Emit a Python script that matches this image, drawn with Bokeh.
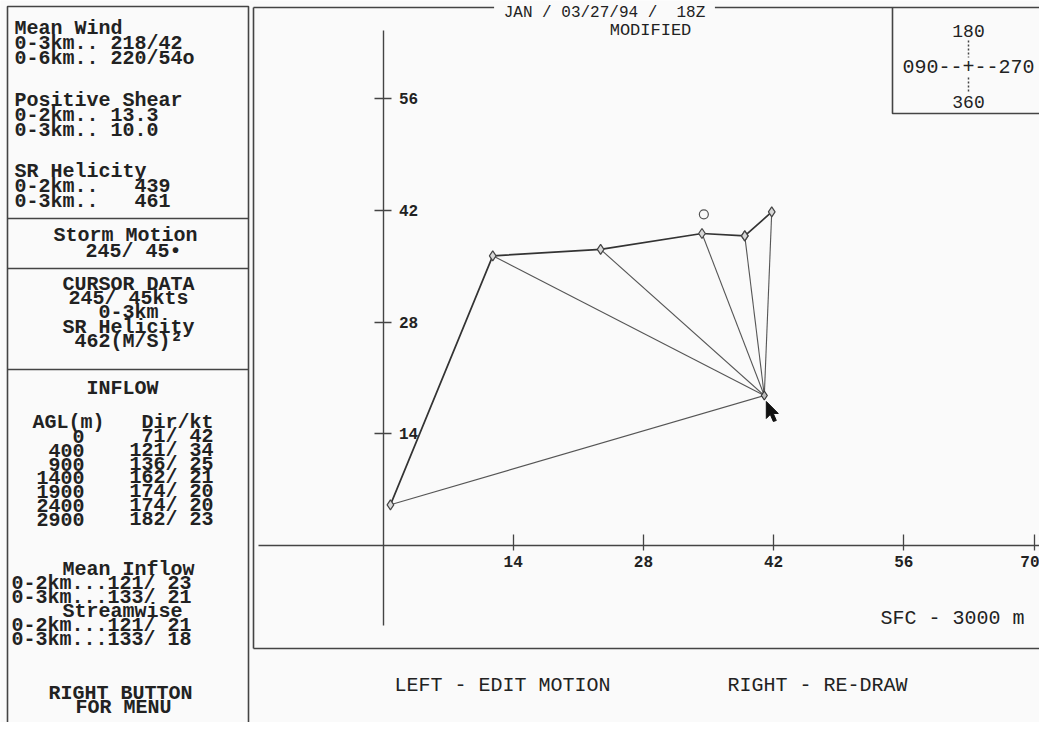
from bokeh.plotting import figure
from bokeh.models import Label, Range1d, LinearAxis, FixedTicker
from bokeh.embed import file_html
from bokeh.resources import INLINE

NB = "\u00a0"  # non-breaking space keeps the fixed-width column spacing

# ---------------- data ----------------
levels_m = [0, 400, 900, 1400, 1900, 2400, 2900]
inflow_dir = [71, 121, 136, 162, 174, 174, 182]
inflow_kt = [42, 34, 25, 21, 20, 20, 23]
# ground-relative hodograph points (u, v in kt)
hodo_u = [0.8, 11.8, 23.4, 34.3, 38.9, 38.9, 41.8]
hodo_v = [5.1, 36.3, 37.1, 39.1, 38.8, 38.8, 41.8]
storm_u, storm_v = 41.0, 18.8
mean6_u, mean6_v = 34.5, 41.5
x_ticks = [14, 28, 42, 56, 70]
y_ticks = [14, 28, 42, 56]

mean_wind = ["0-3km.. 218/42", "0-6km.. 220/54o"]
pos_shear = ["0-2km.. 13.3", "0-3km.. 10.0"]
sr_hel = ["0-2km..   439", "0-3km..   461"]
storm_motion = "245/ 45\u2022"
cursor = ["CURSOR DATA", "245/ 45kts", "0-3km", "SR Helicity", "462(M/S)\u00b2"]
mean_inflow = ["0-2km...121/ 23", "0-3km...133/ 21"]
streamwise = ["0-2km...121/ 21", "0-3km...133/ 18"]
title = "JAN / 03/27/94 /  18Z"

# ---------------- layout helpers ----------------
W, H = 1039, 722
PX_U, U0 = 9.3, 382.5      # pixels per kt, x pixel of u = 0
PX_V, V0 = 7.98, 545.0     # pixels per kt, y pixel of v = 0


def du(px):
    return (px - U0) / PX_U


def dv(py):
    return (V0 - py) / PX_V


BG = "#fafafa"
INK = "#222222"
FONT = "Liberation Mono"

p = figure(width=W, height=H, x_range=Range1d(du(0), du(W)),
           y_range=Range1d(dv(H), dv(0)), output_backend="svg",
           toolbar_location=None, min_border=0, x_axis_type=None, y_axis_type=None)
p.outline_line_color = None
p.background_fill_color = BG
p.border_fill_color = BG


def txt(x, y, s, align="left", size="20px", style="bold", bg=None):
    lab = Label(x=du(x), y=dv(y), text=s.replace(" ", NB), text_align=align,
                text_baseline="middle", text_font=FONT, text_font_size=size,
                text_font_style=style, text_color=INK)
    if bg:
        lab.background_fill_color = bg
    p.add_layout(lab)


# ---------------- frames ----------------
frames_x = [
    [du(7), du(248), du(248), du(7), du(7)],
    [du(7), du(248)], [du(7), du(248)], [du(7), du(248)],
    [du(253), du(1060)], [du(253), du(253)], [du(253), du(1060)],
    [du(892), du(892), du(1060)],
]
frames_y = [
    [dv(745), dv(745), dv(6), dv(6), dv(745)],
    [dv(218), dv(218)], [dv(268), dv(268)], [dv(369), dv(369)],
    [dv(7), dv(7)], [dv(7), dv(648)], [dv(648), dv(648)],
    [dv(7), dv(113), dv(113)],
]
p.multi_line(frames_x, frames_y, line_color="#444444", line_width=1.6)

# compass dotted line
p.multi_line([[du(968), du(968)], [du(968), du(968)]],
             [[dv(40), dv(57)], [dv(77), dv(93)]],
             line_color="#444444", line_width=1.5, line_dash="2 2")

# ---------------- hodograph axes ----------------
xaxis = LinearAxis(fixed_location=0, ticker=FixedTicker(ticks=x_ticks),
                   bounds=(du(258), du(1040)))
yaxis = LinearAxis(fixed_location=0, ticker=FixedTicker(ticks=y_ticks),
                   bounds=(dv(625), dv(30)))
for ax in (xaxis, yaxis):
    ax.axis_line_color = "#444444"
    ax.axis_line_width = 1.4
    ax.major_tick_line_color = "#444444"
    ax.major_tick_line_width = 1.3
    ax.minor_tick_line_color = None
    ax.major_label_text_font = FONT
    ax.major_label_text_font_size = "16px"
    ax.major_label_text_font_style = "bold"
    ax.major_label_text_color = INK
xaxis.major_tick_in = 11
xaxis.major_tick_out = 5
xaxis.major_label_standoff = 5
yaxis.major_tick_in = 9
yaxis.major_tick_out = 8
yaxis.major_label_standoff = 8
p.add_layout(xaxis, "below")
p.add_layout(yaxis, "right")

# ---------------- hodograph ----------------
p.segment(x0=[storm_u] * 6, y0=[storm_v] * 6, x1=hodo_u[:5] + hodo_u[6:],
          y1=hodo_v[:5] + hodo_v[6:], line_color="#555555", line_width=1.1)
p.line(hodo_u, hodo_v, line_color="#333333", line_width=1.7)
p.scatter(hodo_u, hodo_v, marker="diamond", size=10, fill_color="#d8d8d8",
          line_color="#444444", line_width=1.2)
p.scatter([storm_u], [storm_v], marker="diamond", size=9, fill_color="#bbbbbb",
          line_color="#333333", line_width=1.2)
p.scatter([mean6_u], [mean6_v], marker="circle", size=9, fill_color=None,
          line_color="#555555", line_width=1.2)

# mouse cursor arrow at the storm-motion point
arrow_px = [(0, 0), (0, 17), (4, 13), (7, 20), (10, 19), (7, 12), (12, 12)]
p.patch([storm_u + (2 + ax_) / PX_U for ax_, _ in arrow_px],
        [storm_v - (6 + ay_) / PX_V for _, ay_ in arrow_px],
        fill_color="#111111", line_color="#111111", line_width=1)

# ---------------- chart texts ----------------
txt(604, 12, " " + title + " ", align="center", size="16px", style="normal", bg=BG)
txt(650, 30, "MODIFIED", align="center", size="17px", style="normal")
txt(968, 30, "180", align="center", size="18px", style="normal")
txt(968, 66, "090--+--270", align="center", size="20px", style="normal")
txt(968, 101, "360", align="center", size="18px", style="normal")
txt(952, 618, "SFC - 3000 m", align="center", size="20px", style="normal")
txt(502, 685, "LEFT - EDIT MOTION", align="center", size="20px", style="normal")
txt(817, 685, "RIGHT - RE-DRAW", align="center", size="20px", style="normal")

# ---------------- left panel ----------------
txt(14, 28, "Mean Wind")
for i, s in enumerate(mean_wind):
    txt(14, 43 + 15 * i, s)
txt(14, 100, "Positive Shear")
for i, s in enumerate(pos_shear):
    txt(14, 115 + 15 * i, s)
txt(14, 171, "SR Helicity")
for i, s in enumerate(sr_hel):
    txt(14, 186 + 15 * i, s)

txt(125, 235, "Storm Motion", align="center")
txt(133, 251, storm_motion, align="center")

for i, s in enumerate(cursor):
    txt(128, 284 + 14.2 * i, s, align="center")

txt(122, 388, "INFLOW", align="center")
txt(32, 422, "AGL(m)")
txt(213, 422, "Dir/kt", align="right")
for i, (h, d, k) in enumerate(zip(levels_m, inflow_dir, inflow_kt)):
    y = 436 + 13.8 * i
    txt(84, y, str(h), align="right")
    txt(213, y, f"{d}/ {k}", align="right")

txt(128, 569, "Mean Inflow", align="center")
for i, s in enumerate(mean_inflow):
    txt(11, 583 + 14 * i, s)
txt(122, 611, "Streamwise", align="center")
for i, s in enumerate(streamwise):
    txt(11, 625 + 14 * i, s)
txt(120, 693, "RIGHT BUTTON", align="center")
txt(123, 707, "FOR MENU", align="center")

open("out.html", "w").write(file_html(p, INLINE))
